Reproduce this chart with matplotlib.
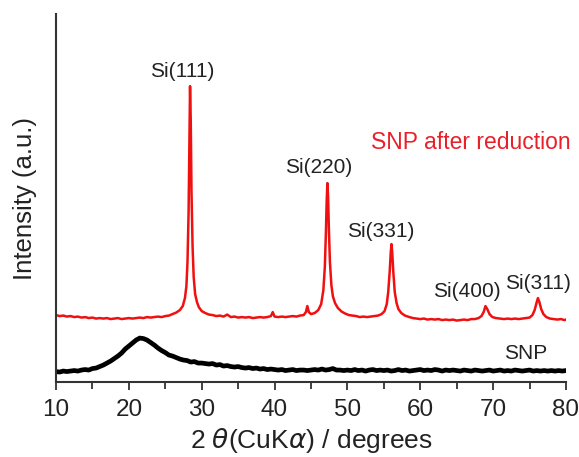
import numpy as np
import matplotlib
matplotlib.use('Agg')
from matplotlib import pyplot as plt

plt.rcParams['font.family'] = ['Liberation Sans', 'DejaVu Sans']
plt.rcParams['mathtext.fontset'] = 'dejavusans'

# SNP (before reduction), sampled every 0.5 degrees from 10 to 80
snp_x = np.arange(10, 80.01, 0.5)
snp_y = [
    10.5, 10, 11, 10.5, 11, 11.5, 11, 12, 12.5, 12,
    13.5, 14, 15.5, 17, 19, 21, 23.5, 26, 29, 33,
    36, 39, 42, 44, 43.5, 42, 39.5, 37, 34, 31.5,
    29.5, 27, 26, 24.5, 23, 22, 21.5, 20, 20.5, 19,
    19, 18.5, 18, 18.5, 17, 17.5, 16, 16.5, 15.5, 15,
    15.5, 14.5, 14, 14.5, 13.5, 14, 13, 13.5, 12.5, 13,
    12.5, 12, 12.5, 11.5, 12, 12.5, 11.5, 12, 12, 11.5,
    12, 12.5, 12, 13, 12, 12.5, 13.5, 12, 12, 11.5,
    12, 11.5, 12.5, 11.5, 12, 11, 12, 12.5, 11.5, 12,
    11.5, 12, 11, 11.5, 12.5, 11.5, 12, 11, 11.5, 12,
    12.5, 11.5, 12, 11.5, 12.5, 12, 11, 12, 11.5, 12,
    11.5, 11, 12, 11.5, 11, 12, 11.5, 11, 11.5, 12,
    11, 11.5, 12, 11, 11.5, 11, 12, 11.5, 11, 11.5,
    12, 11, 11.5, 11, 11.5, 11, 11.5, 11, 11.5, 11,
    11.5,
]

# SNP after reduction
red_x = [
    10, 10.5, 11, 11.5, 12, 12.5, 13, 13.5, 14, 14.5, 15, 15.5, 16, 16.5, 17, 17.5,
    18, 18.5, 19, 19.5, 20, 20.5, 21, 21.5, 22, 22.5, 23, 23.5, 24, 24.5, 25, 25.5,
    26, 26.5, 27, 27.4, 27.7, 27.9, 28.05, 28.2, 28.3, 28.4, 28.5, 28.6, 28.75, 28.9,
    29.1, 29.35, 29.6, 30, 30.5, 31, 31.5, 32, 32.5, 33, 33.5, 34, 34.5, 35, 35.5, 36,
    36.5, 37, 37.5, 38, 38.5, 39, 39.5, 39.75, 40, 40.5, 41, 41.5, 42, 42.5, 43, 43.5,
    44, 44.3, 44.5, 44.7, 45, 45.5, 46, 46.4, 46.7, 46.9, 47.05, 47.15, 47.25, 47.35,
    47.45, 47.6, 47.8, 48.0, 48.3, 48.7, 49.2, 49.7, 50.2, 50.7, 51.2, 51.7, 52.2, 52.7,
    53.2, 53.7, 54.2, 54.7, 55.1, 55.4, 55.6, 55.8, 55.95, 56.05, 56.15, 56.3, 56.5,
    56.75, 57.0, 57.4, 57.9, 58.5, 59, 59.5, 60, 60.5, 61, 61.5, 62, 62.5, 63, 63.5,
    64, 64.5, 65, 65.5, 66, 66.5, 67, 67.5, 68, 68.4, 68.7, 68.95, 69.2, 69.5, 69.9,
    70.4, 71, 71.5, 72, 72.5, 73, 73.5, 74, 74.5, 75, 75.4, 75.7, 75.95, 76.15, 76.35,
    76.6, 76.9, 77.3, 77.8, 78.3, 78.8, 79.3, 79.8, 80,
]
red_y = [
    67, 66, 66.5, 65.5, 66, 65, 65.5, 64.5, 65, 64, 64.5, 63.5, 64, 63.5, 64, 63,
    63.5, 64, 63, 63.5, 64, 63.5, 64, 64.5, 64, 65, 64.5, 65, 65.5, 65, 66, 66.5,
    68, 69.5, 72, 76, 84, 96, 120, 170, 230, 296, 260, 190, 135, 105,
    88, 80, 75, 71, 69, 67.5, 67, 66, 66.5, 65.5, 67.5, 65, 65.5, 64.5, 65, 64.5,
    65, 64, 64.5, 65, 64.5, 65, 66, 70, 65.5, 65, 65.5, 65, 65.5, 66, 65.5, 66.5,
    67, 70, 76, 70, 68, 69, 72, 78, 92, 115, 150, 180, 199, 185,
    155, 120, 97, 86, 79, 74, 70.5, 68.5, 67, 66.5, 66, 65, 65.5, 65,
    65.5, 66, 66.5, 68, 71, 78, 90, 110, 130, 138, 130, 110, 90,
    79, 73, 69, 66.5, 65, 64, 63.5, 63, 63.5, 62.5, 63, 62.5, 63, 62, 62.5,
    62, 62.5, 61.5, 62, 62.5, 62, 63, 63, 64, 66, 70, 76, 73, 68, 65,
    64, 63.5, 63, 63.5, 63, 63.5, 63, 63.5, 64, 64.5, 67, 72, 79, 84, 80,
    73, 68, 65, 63.5, 63, 62.5, 63, 62, 62.5,
]

peak_labels = ['Si(111)', 'Si(220)', 'Si(331)', 'Si(400)', 'Si(311)']
peak_label_x = [27.3, 46.0, 54.6, 66.4, 76.2]
peak_label_y = [305, 209, 145, 85, 93]

fig = plt.figure(figsize=(5.79, 4.57), dpi=100)
ax = fig.add_axes([0.0967, 0.164, 0.8808, 0.805])

ax.plot(snp_x, snp_y, color='black', lw=3.4)
ax.plot(red_x, red_y, color='#f01010', lw=1.8)

for lab, lx, ly in zip(peak_labels, peak_label_x, peak_label_y):
    ax.text(lx, ly, lab, ha='center', va='baseline', fontsize=15, color='#222222')
ax.text(67.0, 233, 'SNP after reduction', ha='center', va='baseline',
        fontsize=16.5, color='#e8202a')
ax.text(74.4, 23, 'SNP', ha='center', va='baseline', fontsize=15, color='#222222')

ax.set_xlim(10, 80)
ax.set_ylim(0, 368)
ax.set_xticks(range(10, 81, 10))
ax.set_xticks(range(15, 80, 10), minor=True)
ax.set_yticks([])
ax.tick_params(axis='x', which='major', direction='out', length=6, width=1.3,
               labelsize=17.5, pad=6, colors='#333333', labelcolor='#222222')
ax.tick_params(axis='x', which='minor', direction='out', length=5, width=1.3,
               colors='#333333')
for s in ['top', 'right']:
    ax.spines[s].set_visible(False)
for s in ['left', 'bottom']:
    ax.spines[s].set_linewidth(1.5)
    ax.spines[s].set_color('#333333')

ax.set_xlabel(r'2 $\theta$(CuK$\alpha$) / degrees', fontsize=19, color='#222222', labelpad=4)
ax.set_ylabel('Intensity (a.u.)', fontsize=18.5, color='#222222', labelpad=14)

plt.savefig('out.png', dpi=100)
